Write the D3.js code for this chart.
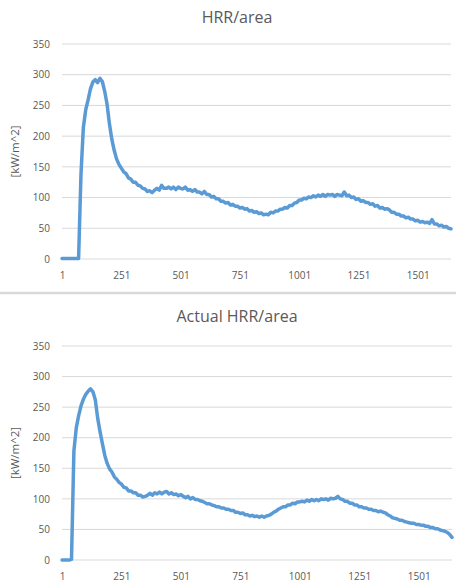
<!DOCTYPE html>
<html>
<head>
<meta charset="utf-8">
<script src="https://cdn.jsdelivr.net/npm/d3@7"></script>
<style>
  body { margin: 0; background: #ffffff; }
  svg { display: block; }
  text { font-family: "Open Sans", "Liberation Sans", sans-serif; fill: #595959; }
</style>
</head>
<body>
<svg id="chart" width="464" height="586"></svg>
<script>
// Sample index of the first value and spacing between recorded samples
const START_INDEX = 1;
const STEP = 10;

const xTickValues = [1, 251, 501, 751, 1001, 1251, 1501];
const yTickValues = [0, 50, 100, 150, 200, 250, 300, 350];
const yAxisLabel = "[kW/m^2]";

// HRR per unit area, kW/m^2
const hrrArea = [
  1, 1, 1, 1, 1, 1, 1, 1, 138, 214,
  243, 259, 277, 288, 292, 287, 294, 289, 273, 252,
  220, 195, 177, 163, 154, 148, 142, 139, 132, 130,
  125, 125, 120, 119, 115, 114, 110, 111, 108, 112,
  115, 112, 120, 115, 115, 117, 114, 117, 113, 117,
  115, 114, 117, 112, 113, 110, 113, 109, 109, 106,
  110, 105, 105, 101, 102, 98, 98, 94, 94, 91,
  92, 88, 89, 86, 86, 83, 84, 81, 82, 78,
  79, 76, 77, 74, 75, 72, 73, 72, 76, 75,
  78, 78, 81, 81, 84, 83, 87, 87, 91, 92,
  96, 96, 99, 98, 101, 100, 103, 101, 104, 102,
  105, 102, 105, 104, 105, 102, 105, 104, 103, 109,
  103, 104, 100, 101, 97, 98, 94, 95, 92, 92,
  89, 90, 86, 87, 83, 84, 81, 82, 80, 76,
  76, 73, 73, 70, 70, 67, 68, 65, 65, 62,
  63, 60, 61, 59, 60, 58, 64, 57, 57, 54,
  55, 52, 53, 50, 49
];

// Actual HRR per unit area, kW/m^2
const actualHrrArea = [
  0, 0, 0, 0, 1, 178, 216, 236, 252, 263,
  271, 276, 280, 275, 262, 232, 210, 190, 171, 158,
  149, 144, 136, 132, 127, 124, 119, 118, 113, 113,
  110, 110, 106, 106, 103, 104, 106, 109, 106, 110,
  108, 111, 108, 111, 112, 108, 110, 107, 108, 105,
  107, 104, 102, 104, 100, 102, 99, 99, 97, 96,
  94, 92, 92, 90, 89, 87, 87, 85, 85, 83,
  83, 81, 81, 78, 78, 76, 77, 74, 74, 72,
  73, 71, 72, 70, 72, 70, 72, 73, 75, 78,
  80, 83, 85, 87, 87, 90, 90, 93, 92, 95,
  95, 96, 95, 98, 96, 99, 97, 99, 97, 100,
  99, 100, 98, 101, 100, 101, 104, 100, 99, 96,
  96, 93, 93, 90, 90, 87, 87, 85, 85, 83,
  83, 81, 81, 79, 80, 78, 77, 74, 72, 69,
  68, 67, 65, 65, 63, 62, 61, 60, 60, 58,
  58, 57, 57, 55, 55, 53, 53, 51, 51, 49,
  48, 47, 45, 42, 37
];

const svg = d3.select("#chart");

const panels = [
  { title: "HRR/area", values: hrrArea, top: 44, bottom: 259, left: 62, right: 451, titleY: 22.5 },
  { title: "Actual HRR/area", values: actualHrrArea, top: 346, bottom: 560, left: 62, right: 452, titleY: 322 }
];

// Border line closing the upper chart object
svg.append("line")
  .attr("x1", 0).attr("x2", 456)
  .attr("y1", 293).attr("y2", 293)
  .attr("stroke", "#d9d9d9").attr("stroke-width", 2.5);

panels.forEach(p => {
  const g = svg.append("g");
  const lastIndex = START_INDEX + (p.values.length - 1) * STEP;

  const x = d3.scaleLinear().domain([START_INDEX, lastIndex]).range([p.left, p.right]);
  const y = d3.scaleLinear().domain([0, 350]).range([p.bottom, p.top]);

  // Horizontal gridlines
  g.append("g")
    .selectAll("line")
    .data(yTickValues)
    .join("line")
    .attr("x1", p.left).attr("x2", p.right)
    .attr("y1", d => y(d)).attr("y2", d => y(d))
    .attr("stroke", "#d9d9d9").attr("stroke-width", 1);

  // Y axis labels
  const yAxis = d3.axisLeft(y).tickValues(yTickValues).tickSize(0).tickPadding(0);
  const yg = g.append("g").attr("transform", `translate(${p.left - 12},0)`).call(yAxis);
  yg.select(".domain").remove();
  yg.selectAll("text").attr("font-size", 10).style("fill", "#595959")
    .attr("font-family", '"Open Sans", sans-serif');

  // X axis labels
  const xAxis = d3.axisBottom(x).tickValues(xTickValues).tickSize(0).tickPadding(0)
    .tickFormat(d3.format("d"));
  const xg = g.append("g").attr("transform", `translate(0,${p.bottom + 13})`).call(xAxis);
  xg.select(".domain").remove();
  xg.selectAll("text").attr("font-size", 10).style("fill", "#595959")
    .attr("font-family", '"Open Sans", sans-serif');

  // Chart title
  g.append("text")
    .attr("x", 237).attr("y", p.titleY)
    .attr("text-anchor", "middle")
    .attr("font-size", 16)
    .text(p.title);

  // Y axis title
  g.append("text")
    .attr("transform", `translate(19,${(p.top + p.bottom) / 2}) rotate(-90)`)
    .attr("text-anchor", "middle")
    .attr("font-size", 11.5)
    .text(yAxisLabel);

  // Series line
  const line = d3.line()
    .x((d, i) => x(START_INDEX + i * STEP))
    .y(d => y(d));

  g.append("path")
    .datum(p.values)
    .attr("fill", "none")
    .attr("stroke", "#5b9bd5")
    .attr("stroke-width", 3.5)
    .attr("stroke-linejoin", "round")
    .attr("stroke-linecap", "round")
    .attr("d", line);
});
</script>
</body>
</html>
